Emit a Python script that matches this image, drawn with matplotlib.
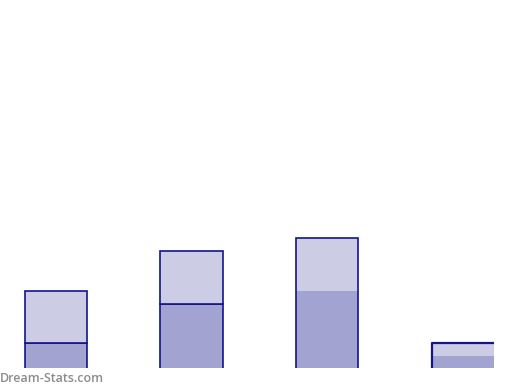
import matplotlib
matplotlib.use("Agg")
import matplotlib.pyplot as plt

categories = ["A", "B", "C", "D"]
lower_vals = [2, 5, 6, 1]
upper_vals = [4, 4, 4, 1]

light = "#CCCCE5"
dark = "#A3A3D1"
edge = "#14148C"

fig = plt.figure(figsize=(5.2, 3.9), dpi=100)
ax = fig.add_axes([0, 22/390, 1, 368/390])
x = list(range(len(categories)))
w = 0.458
totals = [l + u for l, u in zip(lower_vals, upper_vals)]

for i in x:
    ec = edge if i < 2 else "none"
    ax.bar(i, lower_vals[i], width=w, color=dark, edgecolor=ec, linewidth=1.2)
    ax.bar(i, upper_vals[i], bottom=lower_vals[i], width=w, color=light,
           edgecolor=ec, linewidth=1.2)
# outline for bar 3
ax.bar(2, totals[2], width=w, color="none", edgecolor=edge, linewidth=1.2)
# bar 4: top and left edges only
ax.plot([3 - w/2, 3 - w/2, 3 + w/2], [0, totals[3], totals[3]], color=edge, lw=1.6,
        solid_capstyle="butt")

ax.set_xlim(-0.413, 3.424)
ax.set_ylim(0.08, 28.2)
ax.axis("off")

fig.text(0.0, 11/390, "Dream-Stats.com", color="#8C8C8C",
         fontsize=9, fontweight="semibold", family="Open Sans", ha="left", va="center")

fig.savefig("out.png", dpi=100)
